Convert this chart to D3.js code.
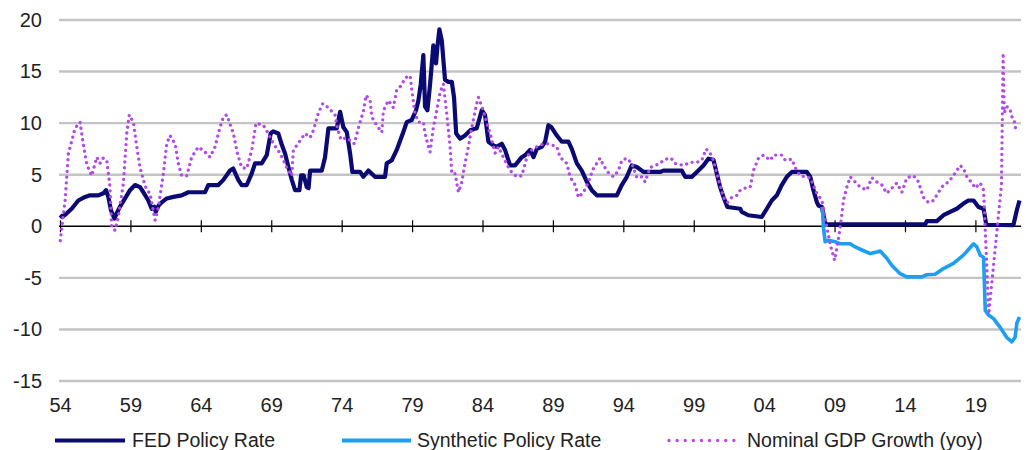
<!DOCTYPE html>
<html>
<head>
<meta charset="utf-8">
<script src="https://cdn.jsdelivr.net/npm/d3@7"></script>
<style>
  html, body { margin: 0; padding: 0; background: #fff; }
  svg { display: block; }
  text { font-family: "Liberation Sans", Arial, sans-serif; fill: #222; }
</style>
</head>
<body>
<svg id="chart" width="1028" height="450"></svg>
<script>
// ---------- DATA (dates as decimal years) ----------
const yTickValues = [-15, -10, -5, 0, 5, 10, 15, 20];
const yTickLabels = ["-15", "-10", "-5", "0", "5", "10", "15", "20"];
const xTickValues = [1954.5, 1959.5, 1964.5, 1969.5, 1974.5, 1979.5, 1984.5, 1989.5, 1994.5, 1999.5, 2004.5, 2009.5, 2014.5, 2019.5];
const xTickLabels = ["54", "59", "64", "69", "74", "79", "84", "89", "94", "99", "04", "09", "14", "19"];
const seriesNames = ["FED Policy Rate", "Synthetic Policy Rate", "Nominal GDP Growth (yoy)"];

const fedDates = [1954.52,1954.65,1954.98,1955.33,1955.8,1956.28,1956.63,1957.22,1957.58,1957.77,1957.93,1958.12,1958.36,1958.53,1958.76,1959.12,1959.47,1959.83,1960.18,1960.42,1960.77,1961.01,1961.2,1961.3,1961.5,1961.7,1962.08,1962.55,1963.14,1963.61,1964.8,1965.03,1965.74,1966.1,1966.57,1966.8,1967.16,1967.4,1967.76,1968.11,1968.35,1968.82,1969.18,1969.46,1969.64,1970.0,1970.25,1970.48,1970.72,1970.96,1971.19,1971.5,1971.62,1971.8,1972.02,1972.15,1972.26,1973.09,1973.32,1973.56,1974.15,1974.39,1974.62,1974.86,1975.1,1975.26,1975.81,1976.04,1976.4,1976.64,1976.87,1977.58,1977.7,1978.06,1978.41,1978.88,1979.12,1979.47,1979.78,1979.95,1980.11,1980.3,1980.42,1980.59,1980.78,1981.01,1981.2,1981.3,1981.44,1981.61,1981.84,1982.08,1982.32,1982.48,1982.63,1982.91,1983.26,1983.62,1984.09,1984.45,1984.68,1984.92,1985.27,1985.51,1985.87,1986.1,1986.46,1986.81,1987.29,1987.53,1987.88,1988.12,1988.36,1988.71,1988.95,1989.18,1989.4,1989.78,1990.13,1990.6,1990.84,1991.2,1991.55,1991.91,1992.26,1992.62,1994.04,1994.39,1994.75,1995.1,1995.46,1995.93,1997.11,1997.35,1998.65,1998.89,1999.37,1999.72,2000.19,2000.54,2000.9,2001.14,2001.37,2001.61,2001.89,2002.8,2002.91,2003.38,2004.33,2004.69,2005.04,2005.4,2005.75,2006.11,2006.47,2007.53,2007.77,2008.0,2008.24,2008.36,2008.6,2008.83,2008.95,2015.93,2016.05,2016.76,2017.23,2017.71,2018.18,2018.65,2019.0,2019.37,2019.72,2020.08,2020.27,2022.2,2022.44,2022.63];
const fedValues = [1.1,0.9,1.26,1.7,2.5,2.85,3.0,3.0,3.2,3.5,2.85,1.55,0.75,1.26,1.9,2.7,3.5,4.0,3.8,3.3,2.5,1.7,1.9,1.4,2.0,2.3,2.7,2.85,3.0,3.3,3.3,4.0,4.0,4.5,5.4,5.6,4.5,4.0,4.0,5.1,6.1,6.1,6.9,9.0,9.2,9.0,7.9,7.05,5.75,4.5,3.5,3.5,4.95,4.95,3.8,3.7,5.4,5.4,6.7,9.5,9.5,11.1,9.6,9.15,7.05,5.27,5.27,4.8,5.4,5.1,4.8,4.8,6.1,6.4,7.4,9.15,10.1,10.3,11.25,12.2,13.7,16.6,11.6,11.25,13.8,17.55,15.8,17.4,19.1,18.0,14.2,14.0,14.0,12.5,9.0,8.5,8.8,9.3,9.5,11.25,10.8,8.2,7.85,7.7,8.0,7.4,5.9,5.9,6.7,6.9,7.4,6.7,7.5,7.7,8.2,9.8,9.6,8.8,8.2,8.2,7.5,6.1,5.4,4.3,3.5,3.0,3.0,4.0,4.8,5.9,5.75,5.27,5.27,5.4,5.4,4.8,4.8,5.27,5.9,6.55,6.45,5.1,3.8,2.85,1.87,1.7,1.4,1.07,0.9,1.7,2.5,3.0,4.0,4.8,5.27,5.27,4.8,3.5,2.35,2.0,1.87,0.26,0.18,0.18,0.5,0.5,1.07,1.4,1.7,2.2,2.5,2.5,1.87,1.7,0.15,0.12,1.55,2.5];

const synDates = [2008.6,2008.64,2008.71,2008.83,2009.07,2009.54,2009.9,2010.61,2010.96,2011.44,2012.03,2012.5,2012.74,2013.21,2013.57,2014.16,2014.63,2015.7,2016.05,2016.64,2017.23,2017.94,2018.65,2019.37,2019.6,2019.84,2020.08,2020.2,2020.43,2020.79,2021.26,2021.74,2022.09,2022.32,2022.44,2022.63];
const synValues = [1.87,1.6,-0.1,-1.5,-1.35,-1.5,-1.7,-1.7,-2.0,-2.3,-2.65,-2.5,-2.4,-3.1,-3.8,-4.6,-4.9,-4.9,-4.7,-4.65,-4.1,-3.6,-2.8,-1.7,-2.0,-2.8,-3.0,-8.15,-8.6,-8.95,-9.8,-10.8,-11.2,-10.75,-9.4,-8.8];

const gdpDates = [1954.52,1954.86,1955.09,1955.57,1955.92,1956.15,1956.4,1956.75,1957.11,1957.34,1957.55,1957.82,1958.05,1958.17,1958.41,1958.64,1959.0,1959.24,1959.42,1959.71,1959.95,1960.18,1960.42,1960.66,1960.89,1961.25,1961.48,1961.84,1962.08,1962.31,1962.67,1962.9,1963.14,1963.5,1963.85,1964.32,1964.8,1965.15,1965.51,1965.86,1966.1,1966.34,1966.81,1967.09,1967.4,1967.76,1968.12,1968.42,1968.94,1969.29,1969.65,1970.12,1970.6,1970.96,1971.07,1971.55,1971.9,1972.26,1972.49,1972.85,1973.16,1973.56,1974.03,1974.2,1974.45,1974.85,1975.4,1975.7,1976.05,1976.23,1976.52,1976.64,1976.99,1977.35,1977.46,1977.82,1978.17,1978.41,1978.77,1979.0,1979.36,1979.48,1979.71,1979.95,1980.3,1980.42,1980.66,1980.78,1981.01,1981.25,1981.49,1981.72,1981.96,1982.2,1982.32,1982.55,1982.79,1983.03,1983.26,1983.5,1983.74,1984.09,1984.21,1984.56,1984.81,1985.04,1985.4,1985.63,1985.98,1986.46,1986.94,1987.29,1987.65,1988.0,1988.36,1988.83,1989.18,1989.78,1990.01,1990.49,1990.72,1991.08,1991.31,1991.67,1992.02,1992.38,1992.85,1993.09,1993.44,1993.8,1994.15,1994.39,1994.75,1995.1,1995.46,1995.81,1996.05,1996.4,1996.76,1997.11,1997.35,1997.7,1997.9,1998.17,1998.77,1999.24,1999.72,2000.07,2000.38,2000.66,2000.9,2001.14,2001.37,2001.61,2001.89,2002.2,2002.56,2002.8,2003.15,2003.51,2003.74,2004.1,2004.45,2004.93,2005.16,2005.76,2006.0,2006.47,2006.7,2007.06,2007.41,2007.77,2008.24,2008.6,2008.95,2009.2,2009.5,2009.68,2009.9,2010.02,2010.13,2010.37,2010.61,2010.96,2011.32,2011.79,2012.15,2012.5,2012.86,2013.21,2013.57,2013.92,2014.28,2014.63,2015.1,2015.46,2015.81,2016.17,2016.52,2016.88,2017.23,2017.59,2017.94,2018.42,2018.65,2018.9,2019.25,2019.49,2019.84,2020.08,2020.45,2021.35,2021.47,2021.55,2021.72,2021.95,2022.1,2022.25,2022.35];
const gdpValues = [-1.4,2.5,7.0,9.5,10.1,8.0,6.0,4.9,6.7,6.1,6.6,6.4,3.8,-0.1,-0.4,0.9,4.2,9.0,10.8,10.1,7.7,5.7,4.5,3.5,3.2,0.6,1.8,5.1,8.0,8.8,8.0,6.1,4.9,4.9,6.7,7.7,7.2,6.7,7.7,9.6,10.6,10.8,9.0,7.1,5.7,5.6,7.4,10.0,9.8,9.0,8.0,7.1,5.7,4.9,7.4,8.3,9.0,8.6,9.3,11.0,11.9,11.5,10.8,9.5,8.4,8.6,8.0,9.6,11.2,12.7,12.2,10.6,9.8,9.1,11.2,12.2,11.5,13.2,13.7,14.4,14.6,13.2,10.9,10.1,10.1,9.0,7.7,7.2,9.6,11.2,13.0,13.8,10.9,7.7,5.1,5.1,3.3,4.3,6.1,7.7,9.6,11.9,12.5,11.2,10.0,9.0,7.1,7.7,6.7,5.4,4.8,4.9,6.7,7.4,7.7,8.0,8.0,7.7,6.7,6.1,4.8,4.0,2.8,3.3,4.3,5.6,6.6,5.9,5.2,4.8,5.4,6.4,6.6,6.1,4.7,4.8,4.3,5.7,5.9,6.1,6.4,6.6,6.6,6.1,5.9,6.2,6.2,6.4,7.5,7.1,6.4,5.1,4.0,2.8,2.3,2.8,3.0,3.5,3.7,3.8,5.4,6.6,6.9,6.4,6.9,6.9,6.4,6.5,5.7,4.9,4.8,4.7,3.2,2.5,-0.1,-1.8,-3.3,-2.0,-0.1,1.2,2.5,3.8,4.8,4.3,3.8,3.5,4.7,4.3,4.0,3.2,3.7,4.2,3.3,4.7,4.9,4.3,2.8,2.3,2.5,3.3,4.0,4.3,4.9,5.9,5.6,4.8,4.2,3.7,4.2,3.5,-8.5,4.0,16.8,11.0,11.6,11.4,10.6,10.3,9.5];

// ---------- DRAW ----------
const svg = d3.select("#chart");
const x = d3.scaleLinear().domain([1954.5, 2022.667]).range([60, 1020]);
const y = d3.scaleLinear().domain([-15, 20]).range([381, 20]);
const FONT = '"Liberation Sans", Arial, sans-serif';

// gridlines
svg.append("g").selectAll("line")
  .data(yTickValues.filter(v => v !== 0))
  .join("line")
  .attr("x1", 59).attr("x2", 1021)
  .attr("y1", d => y(d)).attr("y2", d => y(d))
  .attr("stroke", "#c4c4c4").attr("stroke-width", 2.4);

// y axis labels
const yAxis = d3.axisLeft(y).tickValues(yTickValues).tickSize(0).tickPadding(0)
  .tickFormat((d, i) => yTickLabels[i]);
const gy = svg.append("g").attr("transform", "translate(42,0)").call(yAxis);
gy.select(".domain").remove();
gy.selectAll("text").style("font-size", "20px").attr("fill", "#222").style("font-family", FONT);

// zero axis with crossing ticks
const zeroAxis = d3.axisBottom(x).tickValues(xTickValues).tickSize(6).tickSizeOuter(0).tickFormat("");
const gz = svg.append("g").attr("transform", `translate(0,${y(0)})`).call(zeroAxis);
gz.select(".domain").attr("d", `M59,0H1021`).attr("stroke", "#000").attr("stroke-width", 1.4);
gz.selectAll(".tick line").attr("y1", -6).attr("y2", 6).attr("stroke", "#000").attr("stroke-width", 1.2);

// x tick labels at bottom
const xAxis = d3.axisBottom(x).tickValues(xTickValues).tickSize(0).tickPadding(0)
  .tickFormat((d, i) => xTickLabels[i]);
const gx = svg.append("g").attr("transform", "translate(0,398)").call(xAxis);
gx.select(".domain").remove();
gx.selectAll("text").style("font-size", "20px").attr("fill", "#222").attr("dy", "0.71em").style("font-family", FONT);

// lines
const line = d3.line().x(d => x(d[0])).y(d => y(d[1]));
const fed = d3.zip(fedDates, fedValues);
const syn = d3.zip(synDates, synValues);
const gdp = d3.zip(gdpDates, gdpValues);

const colors = ["#0a0a72", "#1c9ff0", "#b24ae8"];

svg.append("path").datum(fed).attr("d", line)
  .attr("fill", "none").attr("stroke", colors[0]).attr("stroke-width", 4.2)
  .attr("stroke-linejoin", "round");
svg.append("path").datum(syn).attr("d", line)
  .attr("fill", "none").attr("stroke", colors[1]).attr("stroke-width", 3.6)
  .attr("stroke-linejoin", "round");
svg.append("path").datum(gdp).attr("d", line)
  .attr("fill", "none").attr("stroke", colors[2]).attr("stroke-width", 3.3)
  .attr("stroke-linecap", "round").attr("stroke-dasharray", "0.01 5.8");

// legend
const legendItems = [
  { name: seriesNames[0], x1: 55, x2: 125, tx: 132, color: colors[0], dash: null, w: 4.2 },
  { name: seriesNames[1], x1: 342, x2: 411, tx: 417, color: colors[1], dash: null, w: 4 },
  { name: seriesNames[2], x1: 669, x2: 734, tx: 747, color: colors[2], dash: "0.01 8.1", w: 3.3 }
];
const lg = svg.append("g");
legendItems.forEach(it => {
  const l = lg.append("line").attr("x1", it.x1).attr("x2", it.x2).attr("y1", 440.5).attr("y2", 440.5)
    .attr("stroke", it.color).attr("stroke-width", it.w);
  if (it.dash) l.attr("stroke-dasharray", it.dash).attr("stroke-linecap", "round");
  lg.append("text").attr("x", it.tx).attr("y", 447).text(it.name)
    .style("font-size", "19.5px").style("font-family", FONT);
});
</script>
</body>
</html>
